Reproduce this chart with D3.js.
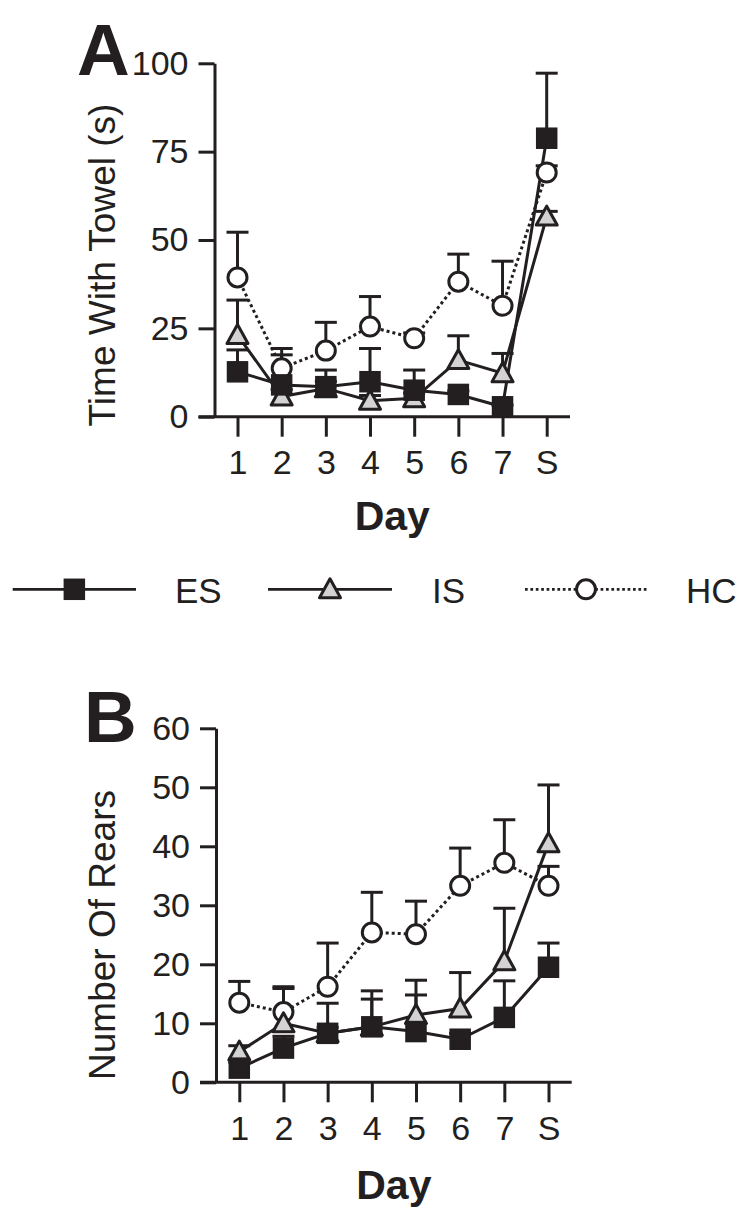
<!DOCTYPE html>
<html>
<head>
    <title>Towel and Rears by Day</title>
    <script src="https://d3js.org/d3.v7.min.js"></script>
    <style>
        body { margin: 0; background: #fff; }
        svg { display: block; font-family: "Liberation Sans", Arial, sans-serif; }
        .axis path, .axis line { stroke: #231f20; stroke-width: 3; }
        .axis text { fill: #231f20; font-size: 34px; font-family: "Liberation Sans", Arial, sans-serif; }
    </style>
</head>
<body>
    <div id="chart"></div>

    <script>
        // Categories
        const days = ['1', '2', '3', '4', '5', '6', '7', 'S'];
        const groups = ['ES', 'IS', 'HC'];

        // Panel A: time with towel (s), mean and SEM
        const esTowel = [12.7, 9.0, 8.5, 9.9, 7.5, 6.3, 2.8, 78.8];
        const esTowelSem = [6.2, 8.5, 4.7, 9.4, 5.7, 1.0, 0.5, 18.4];
        const isTowel = [23.1, 5.7, 8.0, 4.5, 5.2, 16.0, 12.3, 56.6];
        const isTowelSem = [9.9, 2.0, 2.0, 1.5, 1.5, 6.9, 5.6, 1.5];
        const hcTowel = [39.4, 13.7, 18.7, 25.5, 22.2, 38.2, 31.4, 69.1];
        const hcTowelSem = [12.8, 5.6, 8.0, 8.5, 1.5, 7.8, 12.6, 1.9];

        // Panel B: number of rears, mean and SEM
        const esRears = [2.4, 5.8, 8.3, 9.4, 8.6, 7.3, 11.0, 19.5];
        const esRearsSem = [1.0, 2.0, 5.1, 4.7, 6.2, 1.0, 6.2, 4.1];
        const isRears = [5.2, 10.0, 8.3, 9.4, 11.4, 12.5, 20.5, 40.5];
        const isRearsSem = [1.0, 5.9, 1.0, 6.1, 5.9, 6.1, 9.0, 9.9];
        const hcRears = [13.5, 11.9, 16.2, 25.4, 25.1, 33.3, 37.2, 33.3];
        const hcRearsSem = [3.6, 4.3, 7.4, 6.8, 5.6, 6.4, 7.3, 3.3];

        // Tick values
        const towelTicks = [0, 25, 50, 75, 100];
        const rearsTicks = [0, 10, 20, 30, 40, 50, 60];

        const ink = '#231f20';
        const grey = '#d3d3d3';

        const width = 751;
        const height = 1224;
        const svg = d3.select('#chart')
            .append('svg')
            .attr('width', width)
            .attr('height', height);

        svg.append('rect').attr('width', width).attr('height', height).attr('fill', '#fff');

        // marker drawing
        function drawMarker(g, group, x, y) {
            if (group === 'ES') {
                g.append('rect')
                    .attr('x', x - 10).attr('y', y - 10)
                    .attr('width', 20).attr('height', 20)
                    .attr('fill', ink).attr('stroke', ink).attr('stroke-width', 1.5);
            } else if (group === 'IS') {
                const s = 10.5;
                g.append('path')
                    .attr('d', `M${x},${y - s}L${x + s},${y + s * 0.8}L${x - s},${y + s * 0.8}Z`)
                    .attr('fill', grey).attr('stroke', ink).attr('stroke-width', 3)
                    .attr('stroke-linejoin', 'round');
            } else {
                g.append('circle')
                    .attr('cx', x).attr('cy', y).attr('r', 9.5)
                    .attr('fill', '#fff').attr('stroke', ink).attr('stroke-width', 3);
            }
        }

        function drawPanel(p) {
            const g = svg.append('g');
            const x = d3.scalePoint().domain(days).range([p.xFirst, p.xLast]);
            const y = d3.scaleLinear().domain([0, p.yMax]).range([p.bottom, p.top]);

            // y axis
            g.append('g')
                .attr('class', 'axis')
                .attr('transform', `translate(${p.left},0)`)
                .call(d3.axisLeft(y).tickValues(p.ticks).tickSize(16).tickSizeOuter(0).tickPadding(10));

            // x axis (line drawn separately so it meets the zero tick)
            const xa = g.append('g')
                .attr('class', 'axis')
                .attr('transform', `translate(0,${p.bottom})`)
                .call(d3.axisBottom(x).tickSize(20).tickPadding(p.tickPad));
            xa.select('.domain').remove();
            g.append('line')
                .attr('x1', p.left - 16).attr('x2', p.axisEnd)
                .attr('y1', p.bottom).attr('y2', p.bottom)
                .attr('stroke', ink).attr('stroke-width', 3);

            // axis titles
            g.append('text')
                .attr('transform', `translate(115,${p.labelY}) rotate(-90)`)
                .attr('text-anchor', 'middle')
                .attr('font-size', 37)
                .attr('fill', ink)
                .text(p.label);
            g.append('text')
                .attr('x', (p.left + p.axisEnd) / 2)
                .attr('y', p.dayY)
                .attr('text-anchor', 'middle')
                .attr('font-size', 41)
                .attr('font-weight', 'bold')
                .attr('fill', ink)
                .text('Day');
            g.append('text')
                .attr('x', p.letterX)
                .attr('y', p.letterY)
                .attr('font-size', 73)
                .attr('font-weight', 'bold')
                .attr('fill', ink)
                .text(p.letter);

            const line = d3.line().x((d, i) => x(days[i])).y(d => y(d));

            // lines and error bars
            p.series.forEach(s => {
                g.append('path')
                    .datum(s.mean)
                    .attr('d', line)
                    .attr('fill', 'none')
                    .attr('stroke', ink)
                    .attr('stroke-width', 3)
                    .attr('stroke-dasharray', s.group === 'HC' ? '3,3' : null);
                s.mean.forEach((m, i) => {
                    const cx = x(days[i]);
                    const top = y(m + s.sem[i]);
                    g.append('line')
                        .attr('x1', cx).attr('x2', cx)
                        .attr('y1', y(m)).attr('y2', top)
                        .attr('stroke', ink).attr('stroke-width', 3);
                    g.append('line')
                        .attr('x1', cx - 11).attr('x2', cx + 11)
                        .attr('y1', top).attr('y2', top)
                        .attr('stroke', ink).attr('stroke-width', 3);
                });
            });

            // markers
            p.series.forEach(s => {
                s.mean.forEach((m, i) => drawMarker(g, s.group, x(days[i]), y(m)));
            });
        }

        drawPanel({
            top: 63.3, bottom: 416.7, left: 214.5,
            xFirst: 237.5, xLast: 546.7, axisEnd: 570,
            yMax: 100, ticks: towelTicks, tickPad: 13,
            label: 'Time With Towel (s)', labelY: 265,
            dayY: 530, letter: 'A', letterX: 77, letterY: 75,
            series: [
                { group: 'HC', mean: hcTowel, sem: hcTowelSem },
                { group: 'IS', mean: isTowel, sem: isTowelSem },
                { group: 'ES', mean: esTowel, sem: esTowelSem }
            ]
        });

        drawPanel({
            top: 728.3, bottom: 1082.3, left: 216,
            xFirst: 239.3, xLast: 548.5, axisEnd: 571.7,
            yMax: 60, ticks: rearsTicks, tickPad: 14,
            label: 'Number Of Rears', labelY: 935,
            dayY: 1199, letter: 'B', letterX: 84, letterY: 742,
            series: [
                { group: 'HC', mean: hcRears, sem: hcRearsSem },
                { group: 'IS', mean: isRears, sem: isRearsSem },
                { group: 'ES', mean: esRears, sem: esRearsSem }
            ]
        });

        // legend
        const legendX = [[12.7, 136, 175], [268, 392, 432], [525, 647, 686]];
        const legendY = 589.3;
        const legend = svg.append('g');
        groups.forEach((grp, i) => {
            const [x1, x2, tx] = legendX[i];
            legend.append('line')
                .attr('x1', x1).attr('x2', x2)
                .attr('y1', legendY).attr('y2', legendY)
                .attr('stroke', ink).attr('stroke-width', 2.7)
                .attr('stroke-dasharray', grp === 'HC' ? '2.7,2.7' : null);
            drawMarker(legend, grp, (x1 + x2) / 2, legendY);
            legend.append('text')
                .attr('x', tx).attr('y', 602.7)
                .attr('font-size', 35)
                .attr('fill', ink)
                .text(grp);
        });
    </script>
</body>
</html>
